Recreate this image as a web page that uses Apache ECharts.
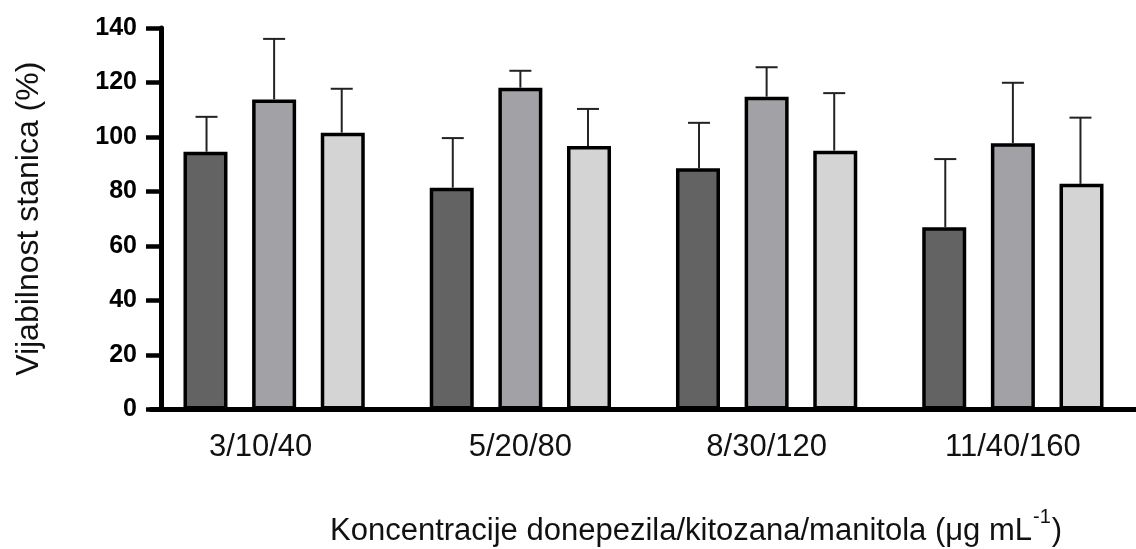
<!DOCTYPE html>
<html>
<head>
<meta charset="utf-8">
<script src="https://cdn.jsdelivr.net/npm/echarts@6/dist/echarts.min.js"></script>
<style>html,body{margin:0;padding:0;background:#fff}#c{width:1136px;height:549px}</style>
</head>
<body>
<div id="c"></div>
<script>
const categories = ['3/10/40', '5/20/80', '8/30/120', '11/40/160'];
const yTicks = [0, 20, 40, 60, 80, 100, 120, 140];
const s1 = [94.6, 81.4, 88.5, 66.9];
const s1Sd = [12.8, 18.2, 16.7, 25.0];
const s2 = [113.8, 118.1, 114.8, 97.7];
const s2Sd = [22.2, 6.2, 10.8, 22.2];
const s3 = [101.6, 96.7, 95.0, 82.8];
const s3Sd = [16.1, 13.6, 21.1, 24.3];

const colors = ['#636363', '#a2a1a6', '#d4d4d4'];
const FONT = '"Liberation Sans", Arial, sans-serif';

function errSeries(vals, sds, idx) {
  return {
    type: 'custom',
    z: 5,
    data: vals.map((v, i) => [i, v, v + sds[i]]),
    renderItem: function (params, api) {
      const c = api.value(0);
      const bw = api.size([1, 0])[0];
      const off = (idx - 1) * bw * 0.2745;
      const p0 = api.coord([c, api.value(1)]);
      const p1 = api.coord([c, api.value(2)]);
      const x = p0[0] + off;
      const cap = 11;
      return {
        type: 'group',
        children: [
          { type: 'line', shape: { x1: x, y1: p0[1], x2: x, y2: p1[1] }, style: { stroke: '#222', lineWidth: 2 } },
          { type: 'line', shape: { x1: x - cap, y1: p1[1], x2: x + cap, y2: p1[1] }, style: { stroke: '#222', lineWidth: 2 } }
        ]
      };
    }
  };
}

function barSeries(vals, idx) {
  return {
    type: 'bar',
    data: vals,
    barWidth: 44,
    barGap: '56%',
    z: 3,
    itemStyle: { color: colors[idx], borderColor: '#000', borderWidth: 3.5 }
  };
}

const chart = echarts.init(document.getElementById('c'));
chart.setOption({
  animation: false,
  backgroundColor: '#fff',
  title: {
    left: 325,
    top: 502,
    text: '{a|Koncentracije donepezila/kitozana/manitola (μg mL}{s|-1}{a|)}',
    textStyle: {
      fontWeight: 'normal',
      rich: {
        a: { fontFamily: FONT, fontSize: 31, fontWeight: 'normal', color: '#111', verticalAlign: 'bottom', lineHeight: 40 },
        s: { fontFamily: FONT, fontSize: 20, fontWeight: 'normal', color: '#111', verticalAlign: 'top', lineHeight: 40, padding: [0, 1, 20, 1] }
      }
    }
  },
  grid: { left: 151, top: 28, width: 1000, bottom: 139.5, containLabel: false },
  xAxis: {
    type: 'category',
    data: categories,
    axisLine: { lineStyle: { color: '#000', width: 5 } },
    axisTick: { show: false },
    axisLabel: {
      fontFamily: FONT, fontSize: 31, color: '#111', margin: 22,
      formatter: (v, i) => i === 0 ? '{f|' + v + '}' : v,
      rich: { f: { fontFamily: FONT, fontSize: 31, color: '#111', padding: [0, 27, 0, 0] } }
    }
  },
  yAxis: {
    type: 'value',
    min: 0, max: 140, interval: 20,
    offset: -10,
    name: 'Vijabilnost stanica (%)',
    nameLocation: 'middle',
    nameGap: 116,
    nameTextStyle: { fontFamily: FONT, fontSize: 32, color: '#111' },
    axisLine: { show: true, lineStyle: { color: '#000', width: 5 } },
    axisTick: { show: true, length: 15, lineStyle: { color: '#000', width: 4.5 } },
    splitLine: { show: false },
    axisLabel: {
      fontFamily: FONT, fontSize: 25, fontWeight: 'bold', color: '#000', margin: 24,
      formatter: v => yTicks.includes(v) ? String(v) : ''
    }
  },
  series: [
    barSeries(s1, 0), barSeries(s2, 1), barSeries(s3, 2),
    errSeries(s1, s1Sd, 0), errSeries(s2, s2Sd, 1), errSeries(s3, s3Sd, 2)
  ]
});
</script>
</body>
</html>
